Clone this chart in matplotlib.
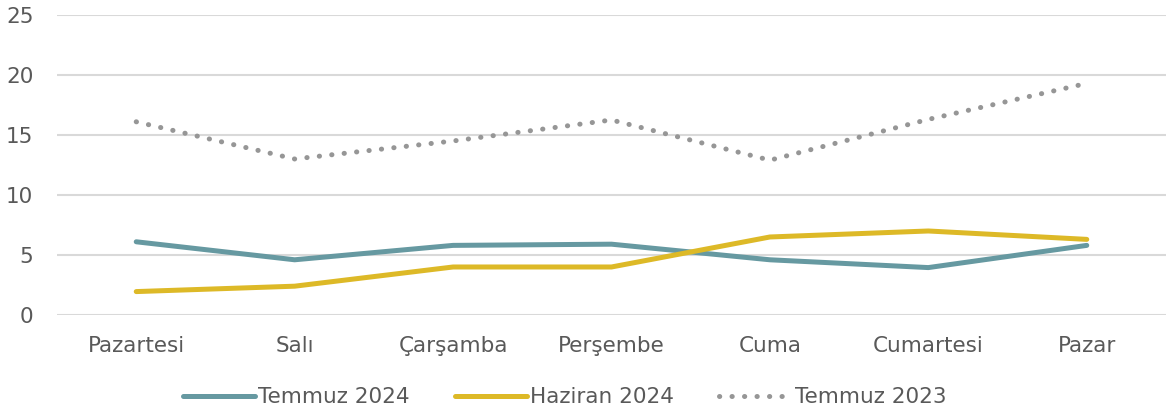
import matplotlib
matplotlib.use('Agg')
from matplotlib import pyplot as plt

# data
days = ['Pazartesi', 'Salı', 'Çarşamba', 'Perşembe', 'Cuma', 'Cumartesi', 'Pazar']
temmuz_2024 = [6.1, 4.6, 5.8, 5.9, 4.6, 3.95, 5.8]
haziran_2024 = [1.95, 2.4, 4.0, 4.0, 6.5, 7.0, 6.3]
temmuz_2023 = [16.1, 13.0, 14.5, 16.25, 12.9, 16.3, 19.3]
y_ticks = [0, 5, 10, 15, 20, 25]

text_color = '#595959'
plt.rcParams['font.family'] = ['DejaVu Sans']

fig = plt.figure(figsize=(11.71, 4.15), dpi=100)
ax = fig.add_axes([0.0487, 0.241, 0.947, 0.7229])

x = range(len(days))
ax.plot(x, temmuz_2024, color='#6699A1', lw=3.6, solid_capstyle='round',
        solid_joinstyle='round', label='Temmuz 2024')
ax.plot(x, haziran_2024, color='#DDB927', lw=3.6, solid_capstyle='round',
        solid_joinstyle='round', label='Haziran 2024')
ax.plot(x, temmuz_2023, color='#969696', lw=3.6, linestyle=(0, (0.05, 2.45)),
        dash_capstyle='round', label='Temmuz 2023')

# axes
ax.set_xlim(-0.5, len(days) - 0.5)
ax.set_ylim(0, 25)
ax.set_yticks(y_ticks)
ax.set_xticks(list(x))
ax.set_xticklabels(days)
ax.tick_params(axis='both', length=0, labelsize=15.5, labelcolor=text_color)
ax.tick_params(axis='y', pad=17)
ax.tick_params(axis='x', pad=15)
for spine in ax.spines.values():
    spine.set_visible(False)

# grid
ax.grid(axis='y', color='#D9D9D9', linewidth=1.5)
ax.set_axisbelow(True)

# legend
leg = fig.legend(loc='center', bbox_to_anchor=(0.482, 0.043), ncol=3, frameon=False,
                 fontsize=15.5, handlelength=3.35, handletextpad=0.15, columnspacing=2.1)
for t in leg.get_texts():
    t.set_color(text_color)

plt.savefig('out.png', dpi=100)
